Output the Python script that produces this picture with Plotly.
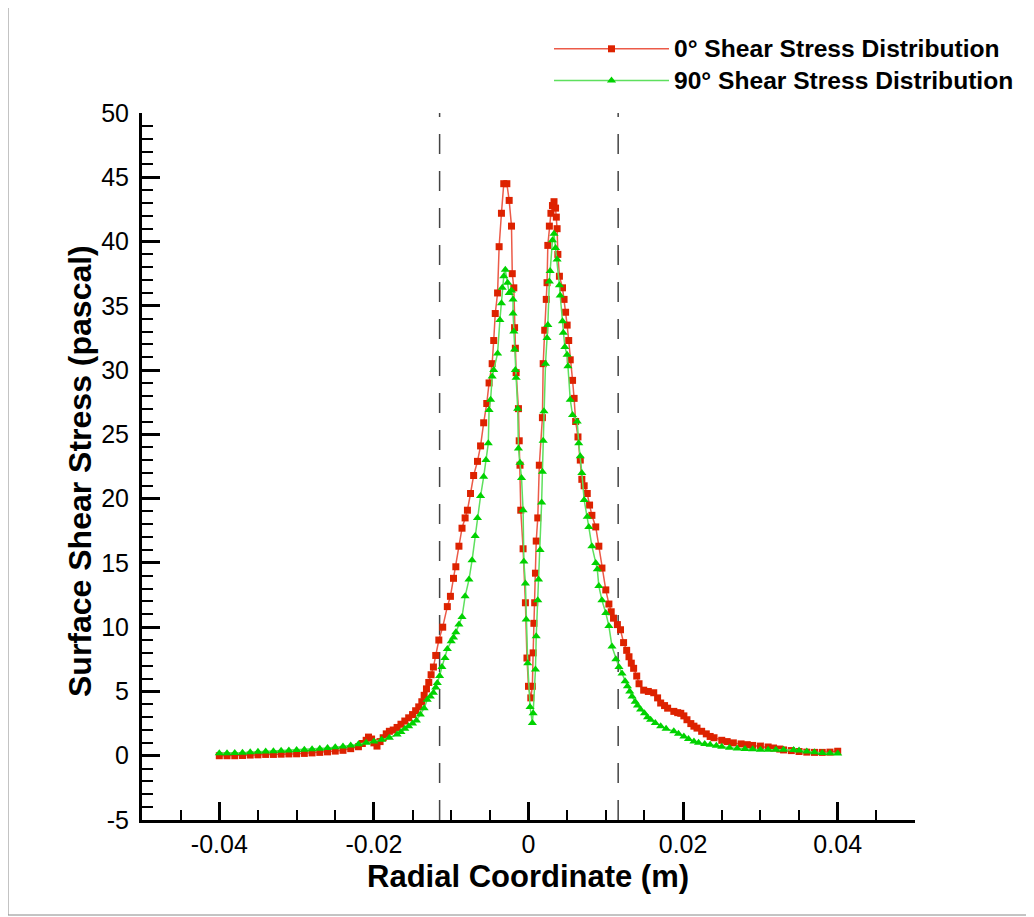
import plotly.graph_objects as go

# ---------------- data ----------------
x_deg0 = [-0.040, -0.039, -0.038, -0.037, -0.036, -0.035, -0.034, -0.033, -0.032, -0.031,
          -0.030, -0.029, -0.028, -0.027, -0.026, -0.025, -0.024, -0.023, -0.022, -0.0215,
          -0.021, -0.0207, -0.0203, -0.020, -0.0196, -0.0192, -0.0188, -0.0184, -0.018, -0.0175,
          -0.017, -0.0165, -0.016, -0.0155, -0.015, -0.0146, -0.0142, -0.0138, -0.0135, -0.0132,
          -0.0129, -0.0126, -0.0123, -0.012, -0.0116, -0.0111, -0.0105, -0.0101, -0.0097, -0.0094,
          -0.0090, -0.0086, -0.0082, -0.0079, -0.0075, -0.0071, -0.0066, -0.0062, -0.0058, -0.0054,
          -0.0051, -0.0047, -0.0045, -0.0043, -0.0040, -0.0038, -0.0035, -0.0032, -0.0028, -0.0025,
          -0.0022, -0.0021, -0.0019, -0.0018, -0.0017, -0.0016, -0.0013, -0.0012, -0.0011, -0.0010,
          -0.0007, -0.0004, -0.0002, 0.0000, 0.0003, 0.0005, 0.0006, 0.0007, 0.0008, 0.0009,
          0.0010, 0.0012, 0.0014, 0.0018, 0.0019, 0.0021, 0.0023, 0.0024, 0.0025, 0.0027,
          0.0029, 0.0031, 0.0033, 0.0035, 0.0036, 0.0037, 0.0038, 0.0040, 0.0044, 0.0046,
          0.0048, 0.0050, 0.0052, 0.0054, 0.0057, 0.0059, 0.0061, 0.0064, 0.0067, 0.0069,
          0.0072, 0.0076, 0.0079, 0.0082, 0.0087, 0.0091, 0.0095, 0.0100, 0.0104, 0.0107,
          0.0110, 0.0115, 0.0119, 0.0123, 0.0127, 0.0130, 0.0133, 0.0136, 0.0140, 0.0143,
          0.0149, 0.0155, 0.0162, 0.0167, 0.0171, 0.0176, 0.0180, 0.0188, 0.0193, 0.0197,
          0.0201, 0.0205, 0.0210, 0.0214, 0.0218, 0.0224, 0.0230, 0.0235, 0.0240, 0.0250,
          0.0257, 0.0265, 0.0275, 0.0283, 0.0290, 0.0300, 0.0310, 0.0317, 0.0325, 0.0330,
          0.0340, 0.0350, 0.0360, 0.0370, 0.0380, 0.0390, 0.0400]
y_deg0 = [0.00, 0.00, 0.00, 0.02, 0.05, 0.07, 0.10, 0.10, 0.12, 0.14,
          0.15, 0.18, 0.22, 0.26, 0.30, 0.36, 0.42, 0.55, 0.70, 0.95,
          1.20, 1.45, 1.30, 1.00, 0.75, 1.10, 1.40, 1.70, 1.90, 2.00,
          2.20, 2.45, 2.70, 2.95, 3.20, 3.50, 3.80, 4.20, 4.70, 5.20,
          5.70, 6.30, 6.90, 7.80, 9.00, 10.0, 11.6, 12.4, 13.8, 14.7,
          16.3, 17.7, 18.5, 19.1, 20.4, 21.8, 22.9, 24.1, 25.9, 27.4,
          29.0, 30.5, 32.3, 34.4, 36.0, 39.6, 42.2, 44.5, 44.5, 43.2,
          41.2, 37.5, 36.4, 33.3, 31.7, 29.8, 27.0, 24.5, 22.6, 19.1,
          16.1, 11.9, 7.6, 5.4, 4.5, 5.4, 8.0, 10.3, 11.9, 14.2,
          16.7, 18.5, 22.6, 26.3, 30.5, 33.1, 35.5, 36.8, 39.7, 41.2,
          42.2, 42.8, 43.1, 42.6, 41.9, 41.0, 39.0, 37.3, 36.4, 35.5,
          34.5, 33.5, 32.3, 30.8, 29.2, 27.8, 26.0, 24.8, 23.0, 21.5,
          21.0, 20.4, 19.5, 18.7, 17.8, 16.3, 14.6, 12.9, 11.8, 11.2,
          10.7, 10.2, 9.8, 8.8, 8.2, 7.7, 7.2, 6.8, 6.2, 5.6,
          5.1, 5.0, 4.9, 4.5, 4.1, 3.9, 3.7, 3.45, 3.35, 3.3,
          3.1, 2.8, 2.5, 2.3, 2.15, 1.9, 1.7, 1.5, 1.4, 1.2,
          1.1, 1.0, 0.92, 0.86, 0.80, 0.75, 0.68, 0.60, 0.52, 0.45,
          0.40, 0.33, 0.28, 0.26, 0.26, 0.28, 0.35]

x_deg90 = [-0.040, -0.039, -0.038, -0.037, -0.036, -0.035, -0.034, -0.033, -0.032, -0.031,
           -0.030, -0.029, -0.028, -0.027, -0.026, -0.025, -0.024, -0.023, -0.022, -0.021,
           -0.020, -0.019, -0.018, -0.017, -0.0165, -0.016, -0.0155, -0.015, -0.0145, -0.014,
           -0.0135, -0.0131, -0.0127, -0.0123, -0.0120, -0.0118, -0.0115, -0.0112, -0.0108, -0.0105,
           -0.0100, -0.0097, -0.0094, -0.0090, -0.0086, -0.0082, -0.0077, -0.0073, -0.0069, -0.0066,
           -0.0062, -0.0058, -0.0055, -0.0052, -0.0051, -0.0049, -0.0047, -0.0045, -0.0040, -0.0037,
           -0.0035, -0.0034, -0.0032, -0.0030, -0.0027, -0.0025, -0.0022, -0.0020, -0.0020, -0.0019,
           -0.0018, -0.0017, -0.0016, -0.0014, -0.0013, -0.0011, -0.0009, -0.0007, -0.0006, -0.0004,
           -0.0003, -0.0001, 0.0002, 0.0005, 0.0006, 0.0009, 0.0010, 0.0012, 0.0013, 0.0015,
           0.0017, 0.0018, 0.0019, 0.0020, 0.0022, 0.0024, 0.0025, 0.0027, 0.0028, 0.0031,
           0.0033, 0.0035, 0.0037, 0.0040, 0.0041, 0.0044, 0.0045, 0.0047, 0.0050, 0.0051,
           0.0054, 0.0057, 0.0063, 0.0065, 0.0067, 0.0069, 0.0072, 0.0076, 0.0078, 0.0082,
           0.0087, 0.0089, 0.0091, 0.0095, 0.0100, 0.0104, 0.0108, 0.0113, 0.0117, 0.0121,
           0.0125, 0.0128, 0.0131, 0.0134, 0.0138, 0.0141, 0.0145, 0.0150, 0.0154, 0.0158,
           0.0164, 0.0171, 0.0178, 0.0188, 0.0194, 0.0201, 0.0207, 0.0214, 0.0220, 0.0228,
           0.0235, 0.0243, 0.0250, 0.0260, 0.0270, 0.0280, 0.0290, 0.0300, 0.0310, 0.0320,
           0.0330, 0.0343, 0.0350, 0.0360, 0.0370, 0.0380, 0.0390, 0.0400]
y_deg90 = [0.20, 0.20, 0.22, 0.24, 0.27, 0.30, 0.32, 0.35, 0.38, 0.41,
           0.44, 0.47, 0.50, 0.55, 0.60, 0.66, 0.72, 0.80, 0.90, 1.00,
           1.10, 1.25, 1.40, 1.65, 1.85, 2.10, 2.30, 2.50, 2.75, 3.20,
           3.70, 4.35, 4.60, 4.90, 5.30, 5.65, 6.20, 6.90, 7.60, 8.30,
           8.90, 9.20, 9.60, 10.2, 10.8, 12.4, 13.7, 15.2, 17.1, 18.5,
           20.2, 21.7, 23.0, 24.3, 26.9, 27.7, 29.5, 30.0, 31.3, 33.9,
           35.2, 36.4, 37.3, 37.8, 36.8, 36.0, 36.2, 35.5, 34.4, 33.0,
           31.6, 30.0, 29.4, 27.0, 23.9, 22.8, 21.6, 19.1, 15.1, 13.4,
           10.6, 7.2, 3.8, 2.55, 3.3, 6.7, 9.3, 12.1, 13.7, 16.0,
           19.7, 22.1, 24.5, 26.8, 30.5, 32.5, 33.5, 36.9, 37.7, 40.1,
           40.6, 39.5, 38.6, 36.6, 35.8, 33.8, 32.9, 31.8, 31.2, 30.3,
           27.7, 26.5, 26.0, 24.3, 23.3, 22.0, 19.9, 18.6, 17.8, 16.3,
           15.0, 14.5, 13.2, 12.1, 11.1, 10.1, 8.5, 7.5, 6.9, 6.4,
           5.8, 5.4, 5.0, 4.6, 4.2, 3.9, 3.6, 3.3, 3.0, 2.8,
           2.55, 2.3, 2.1, 1.9, 1.7, 1.5, 1.3, 1.1, 1.0, 0.92,
           0.86, 0.78, 0.70, 0.62, 0.57, 0.52, 0.50, 0.47, 0.47, 0.47,
           0.46, 0.45, 0.40, 0.32, 0.27, 0.22, 0.20, 0.18]

ref_lines_x = [-0.0115, 0.0116]

x_tickvals = [-0.04, -0.02, 0, 0.02, 0.04]
x_ticktext = ["-0.04", "-0.02", "0", "0.02", "0.04"]
y_tickvals = [-5, 0, 5, 10, 15, 20, 25, 30, 35, 40, 45, 50]
y_ticktext = ["-5", "0", "5", "10", "15", "20", "25", "30", "35", "40", "45", "50"]

series_names = ["0° Shear Stress Distribution", "90° Shear Stress Distribution"]
x_title = "Radial Coordinate (m)"
y_title = "Surface Shear Stress (pascal)"

FONT = "Liberation Sans, Arial, Helvetica, sans-serif"

# layout geometry (page pixels; the html body adds an 8px offset)
OFF = 8
L, R, T, B = 142, 915, 113, 820
W, H = R - L, B - T


def px(xp):
    return (xp - L) / W


def py(yp):
    return (B - yp) / H


fig = go.Figure()
fig.add_trace(go.Scatter(
    x=x_deg0, y=y_deg0, mode="lines+markers",
    name='<span style="font-size:24.6px"><b>%s</b></span>' % series_names[0],
    line=dict(color="#ec5a48", width=1.5),
    marker=dict(symbol="square", size=7, color="#dd2200", line=dict(width=0)),
))
fig.add_trace(go.Scatter(
    x=x_deg90, y=y_deg90, mode="lines+markers",
    name='<span style="font-size:24.6px"><b>%s</b></span>' % series_names[1],
    line=dict(color="#5ee05e", width=1.5),
    marker=dict(symbol="triangle-up", size=8, color="#00d200", line=dict(width=0)),
))

for xv in ref_lines_x:
    fig.add_shape(type="line", xref="x", yref="y", x0=xv, x1=xv, y0=-5, y1=50,
                  line=dict(color="#444444", width=1.5, dash="20px,17px"), layer="below")

# outer frame
fig.add_shape(type="rect", xref="paper", yref="paper",
              x0=px(8), x1=px(1031), y0=py(915), y1=py(2),
              line=dict(color="#888888", width=1))

axis_common = dict(
    showgrid=False, zeroline=False, showline=True, linecolor="black", linewidth=3,
    ticks="inside", ticklen=18, tickwidth=3, tickcolor="black", automargin=False,
    tickfont=dict(family=FONT, size=25, color="black"),
)
fig.update_xaxes(
    range=[-0.05, 0.05], tickvals=x_tickvals, ticktext=x_ticktext, ticklabelstandoff=0,
    minor=dict(dtick=0.005, tick0=0, ticks="inside", ticklen=10, tickwidth=1.5, tickcolor="black"),
    **axis_common,
)
fig.update_yaxes(
    range=[-5, 50], tickvals=y_tickvals, ticktext=y_ticktext, ticklabelstandoff=5,
    minor=dict(dtick=1, tick0=0, ticks="inside", ticklen=11, tickwidth=1.5, tickcolor="black"),
    **axis_common,
)

# axis titles
fig.add_annotation(text="<b>%s</b>" % x_title, xref="paper", yref="paper",
                   x=px(528), y=py(876), xanchor="center", yanchor="middle", showarrow=False,
                   font=dict(family=FONT, size=31, color="black"))
fig.add_annotation(text="<b>%s</b>" % y_title, xref="paper", yref="paper", textangle=-90,
                   x=px(80), y=py(471), xanchor="center", yanchor="middle", showarrow=False,
                   font=dict(family=FONT, size=32, color="black"))

fig.update_layout(
    width=1034, height=917,
    margin=dict(l=L - OFF, r=1034 - R + OFF, t=T - OFF, b=917 - B + OFF, autoexpand=False),
    paper_bgcolor="white", plot_bgcolor="white",
    font=dict(family=FONT, color="black"),
    legend=dict(
        x=px(549), y=py(28), xanchor="left", yanchor="top",
        font=dict(family=FONT, size=22, color="black"),
        bgcolor="rgba(0,0,0,0)", itemwidth=115, tracegroupgap=0,
    ),
)

fig.write_html("out.html")
